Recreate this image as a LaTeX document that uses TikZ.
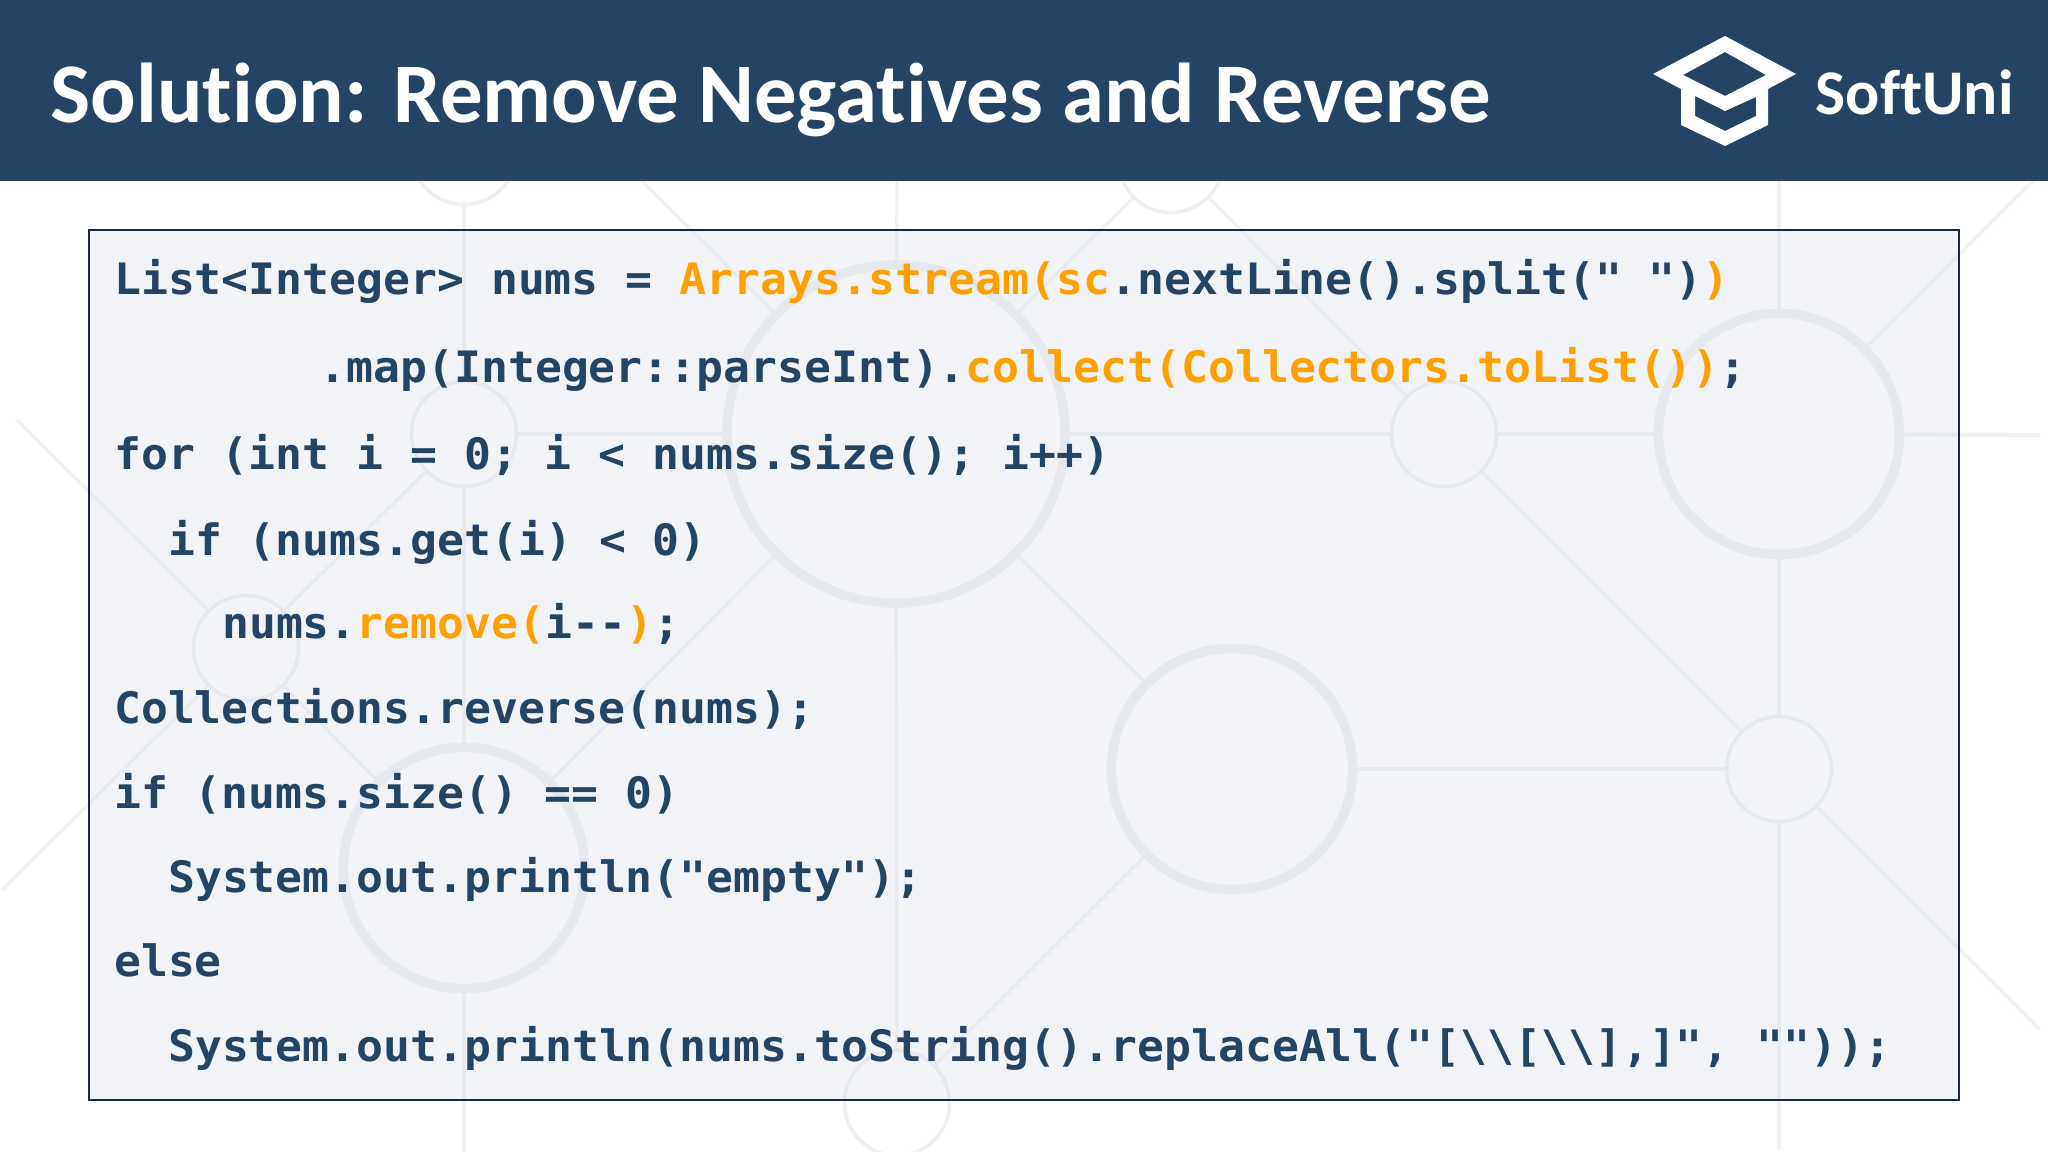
\documentclass[tikz,border=0pt]{standalone}
\usepackage{fontspec}
\setmainfont[Ligatures=NoCommon]{Carlito}
\newfontfamily\codefont[FakeStretch=1.034]{DejaVu Sans Mono Bold}
\definecolor{softblue}{rgb}{0.137,0.267,0.396}
\definecolor{softorange}{rgb}{1.0,0.627,0.0}
\definecolor{boxfill}{rgb}{0.945,0.953,0.969}
\definecolor{boxline}{rgb}{0.1,0.16,0.27}
\definecolor{artline}{rgb}{0.80,0.81,0.84}
\newcommand{\hl}[1]{\textcolor{softorange}{#1}}
\tikzset{
    ringbig/.style={circle,inner sep=0pt,draw=artline,draw opacity=0.3,line width=2.7pt},
    ringsmall/.style={circle,inner sep=0pt,minimum size=1.05cm,draw=artline,draw opacity=0.3,line width=1pt},
    artlink/.style={color=artline,opacity=0.27,line width=0.9pt},
    codeline/.style={anchor=base west,inner sep=0pt,color=softblue,font=\codefont\fontsize{12.3pt}{14pt}\selectfont}
}

\begin{document}
\begin{tikzpicture}[x=0.01cm,y=-0.01cm]
    \clip (0,0) rectangle (2048,1152);
    \fill[white] (0,0) rectangle (2048,1152);
    \fill[boxfill] (89,230) rectangle (1959,1100);
    \node[ringsmall] (toplA) at (464,152) {};
    \node[ringsmall] (toplB) at (1171,160) {};
    \node[ringsmall] (midA) at (464,434) {};
    \node[ringbig,minimum size=3.38cm] (midB) at (896,434) {};
    \node[ringsmall] (midC) at (1444,434) {};
    \node[ringbig,minimum size=2.41cm] (midD) at (1779,434) {};
    \node[ringsmall] (lefA) at (246,648) {};
    \node[ringbig,minimum size=2.41cm] (lowA) at (1232,769) {};
    \node[ringsmall] (lowB) at (1779,769) {};
    \node[ringbig,minimum size=2.41cm] (lowC) at (464,868) {};
    \node[ringsmall] (botA) at (897,1103) {};
    \coordinate (endB) at (464,1152);
    \coordinate (endC) at (897,170);
    \coordinate (endD) at (1779,170);
    \coordinate (endE) at (1779,1150);
    \coordinate (endF) at (2040,435);
    \coordinate (endG) at (2033,181);
    \coordinate (endH) at (2040,1030);
    \coordinate (endI) at (17,420);
    \coordinate (endJ) at (2,890);
    \coordinate (endK) at (633,172);
    \draw[artlink] (toplA) -- (midA);
    \draw[artlink] (midA) -- (lowC);
    \draw[artlink] (lowC) -- (endB);
    \draw[artlink] (endC) -- (midB);
    \draw[artlink] (midB) -- (botA);
    \draw[artlink] (endD) -- (midD);
    \draw[artlink] (midD) -- (lowB);
    \draw[artlink] (lowB) -- (endE);
    \draw[artlink,line width=1.2pt] (midA) -- (midB);
    \draw[artlink,line width=1.2pt] (midB) -- (midC);
    \draw[artlink,line width=1.2pt] (midC) -- (midD);
    \draw[artlink,line width=1.2pt] (midD) -- (endF);
    \draw[artlink,line width=1.2pt] (lowA) -- (lowB);
    \draw[artlink] (endK) -- (midB);
    \draw[artlink] (toplB) -- (midB);
    \draw[artlink] (toplB) -- (midC);
    \draw[artlink] (midC) -- (lowB);
    \draw[artlink] (midB) -- (lowA);
    \draw[artlink] (midB) -- (lowC);
    \draw[artlink] (lowA) -- (botA);
    \draw[artlink] (midD) -- (endG);
    \draw[artlink] (lowB) -- (endH);
    \draw[artlink] (endI) -- (lefA);
    \draw[artlink] (endJ) -- (lefA);
    \draw[artlink] (lefA) -- (midA);
    \draw[artlink] (lefA) -- (lowC);
    \draw[color=boxline,line width=0.7pt] (89,230) rectangle (1959,1100);
    \fill[softblue] (0,0) rectangle (2048,181);
    \fill[white,even odd rule] (1725,36) -- (1796,74) -- (1768,89) -- (1768,125) -- (1725,146) -- (1681,125) -- (1681,89) -- (1653,74) -- cycle
        (1725,52) -- (1766,75) -- (1725,96) -- (1683,75) -- cycle
        (1695,96) -- (1725,111) -- (1756,97) -- (1756,116) -- (1725,131) -- (1695,116) -- cycle;
    \node[anchor=base west,inner sep=0pt,text=white,font=\bfseries\fontsize{24.13pt}{28pt}\selectfont] (title) at (50,123) {Solution: Remove Negatives and Reverse};
    \node[anchor=base west,inner sep=0pt,text=white,font=\bfseries\fontsize{18.1pt}{22pt}\selectfont] (logotext) at (1815,115) {SoftUni};
    \node[codeline] (codeA) at (113.5,295) {List<Integer> nums = \hl{Arrays.stream(sc}.nextLine().split(" ")\hl{)}};
    \node[codeline] (codeB) at (319,383) {.map(Integer::parseInt).\hl{collect(Collectors.toList())};};
    \node[codeline] (codeC) at (113.5,470) {for (int i = 0; i < nums.size(); i++)};
    \node[codeline] (codeD) at (167.5,555) {if (nums.get(i) < 0)};
    \node[codeline] (codeE) at (221.5,639) {nums.\hl{remove(}i--\hl{)};};
    \node[codeline] (codeF) at (113.5,723) {Collections.reverse(nums);};
    \node[codeline] (codeG) at (113.5,808) {if (nums.size() == 0)};
    \node[codeline] (codeH) at (167.5,892) {System.out.println("empty");};
    \node[codeline] (codeI) at (113.5,976) {else};
    \node[codeline] (codeJ) at (167.5,1061) {System.out.println(nums.toString().replaceAll("[\textbackslash{}\textbackslash{}[\textbackslash{}\textbackslash{}],]", ""));};
\end{tikzpicture}
\end{document}
